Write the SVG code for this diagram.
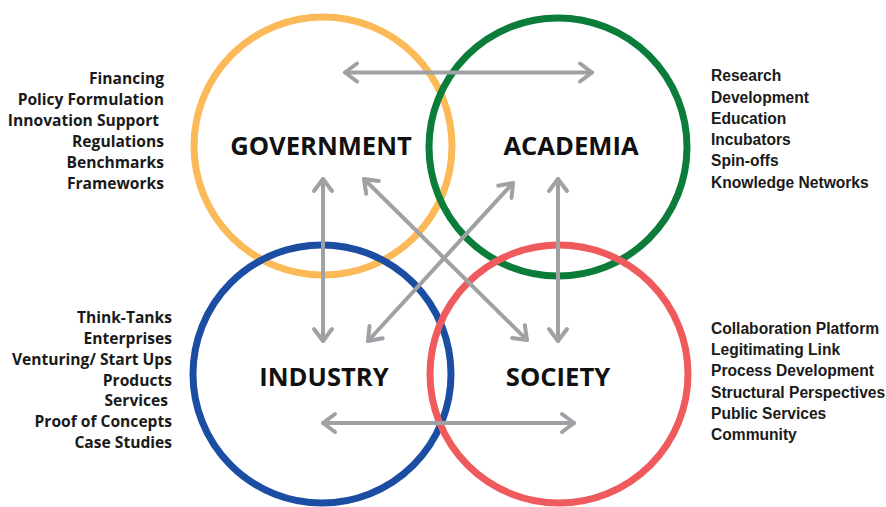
<svg xmlns="http://www.w3.org/2000/svg" width="886" height="507" viewBox="0 0 886 507">
<style>
.ring{fill:none;stroke-width:7}
.title{font-family:"Open Sans","DejaVu Sans",sans-serif;font-weight:700;font-size:25.6px;fill:#111;text-anchor:middle}
.lo{font-family:"Open Sans","DejaVu Sans",sans-serif;font-weight:700;font-size:15.6px;fill:#1a1a1a;text-anchor:end}
.ro{font-family:"Liberation Sans",Arial,sans-serif;font-weight:700;font-size:15.6px;fill:#1a1a1a}
.arr{stroke:#a0a1a4;stroke-width:4;stroke-linecap:round;fill:none;marker-start:url(#ah);marker-end:url(#ah)}
</style>
<defs>
<marker id="ah" markerUnits="userSpaceOnUse" viewBox="-16 -13 20 26" markerWidth="20" markerHeight="26" refX="0" refY="0" orient="auto-start-reverse" overflow="visible">
<path d="M-12,-9 L0,0 L-12,9" fill="none" stroke="#a0a1a4" stroke-width="4" stroke-linecap="round" stroke-linejoin="round"/>
</marker>
</defs>
<rect width="886" height="507" fill="#fff"/>
<g id="government">
<circle class="ring" cx="323" cy="146" r="129" stroke="#fbb957"/>
<text class="title" x="321" y="155">GOVERNMENT</text>
<text class="lo" x="164" y="84">Financing</text>
<text class="lo" x="164" y="105">Policy Formulation</text>
<text class="lo" x="159" y="126">Innovation Support</text>
<text class="lo" x="164" y="147">Regulations</text>
<text class="lo" x="164" y="168">Benchmarks</text>
<text class="lo" x="164" y="189">Frameworks</text>
</g>
<g id="academia">
<circle class="ring" cx="558" cy="147" r="129" stroke="#0b7c3a"/>
<text class="title" x="571" y="155">ACADEMIA</text>
<text class="ro" x="711" y="81">Research</text>
<text class="ro" x="711" y="103">Development</text>
<text class="ro" x="711" y="124">Education</text>
<text class="ro" x="711" y="145">Incubators</text>
<text class="ro" x="711" y="166">Spin-offs</text>
<text class="ro" x="711" y="188">Knowledge Networks</text>
</g>
<g id="industry">
<circle class="ring" cx="322" cy="374" r="129" stroke="#1b4ea3"/>
<text class="title" x="324" y="386">INDUSTRY</text>
<text class="lo" x="172" y="323">Think-Tanks</text>
<text class="lo" x="172" y="344">Enterprises</text>
<text class="lo" x="172" y="365">Venturing/ Start Ups</text>
<text class="lo" x="172" y="386">Products</text>
<text class="lo" x="168" y="406">Services</text>
<text class="lo" x="172" y="427">Proof of Concepts</text>
<text class="lo" x="172" y="448">Case Studies</text>
</g>
<g id="society">
<circle class="ring" cx="559" cy="374" r="129" stroke="#ef5a5c"/>
<text class="title" x="558" y="386">SOCIETY</text>
<text class="ro" x="711" y="334">Collaboration Platform</text>
<text class="ro" x="711" y="355">Legitimating Link</text>
<text class="ro" x="711" y="376">Process Development</text>
<text class="ro" x="711" y="398">Structural Perspectives</text>
<text class="ro" x="711" y="419">Public Services</text>
<text class="ro" x="711" y="440">Community</text>
</g>
<g id="connectors">
<line class="arr" x1="345" y1="72.5" x2="592" y2="72.5"/>
<line class="arr" x1="323" y1="423" x2="574" y2="423"/>
<line class="arr" x1="323" y1="179" x2="323" y2="341"/>
<line class="arr" x1="558" y1="179" x2="558" y2="341"/>
<line class="arr" x1="364" y1="179" x2="527" y2="340"/>
<line class="arr" x1="513" y1="183" x2="368" y2="341"/>
</g>
</svg>
